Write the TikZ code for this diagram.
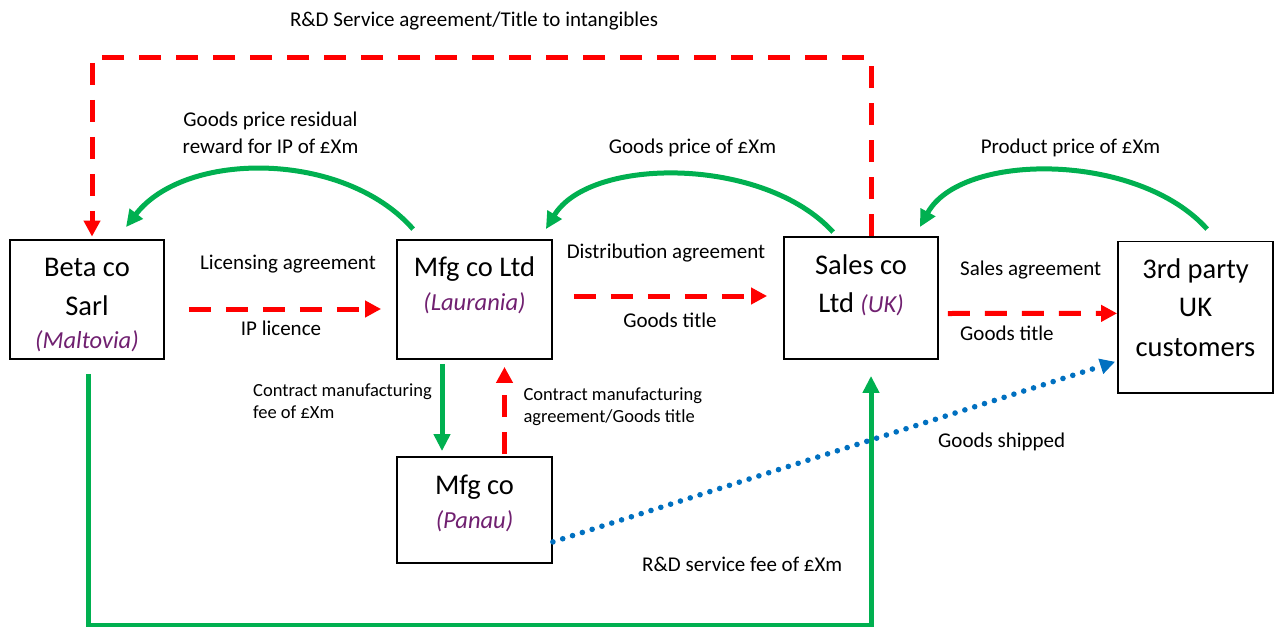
\documentclass[tikz,border=0pt]{standalone}
\usepackage{fontspec}
\setmainfont{Carlito}
\usetikzlibrary{arrows.meta,calc}
\definecolor{ggreen}{HTML}{00B050}
\definecolor{rred}{HTML}{FF0000}
\definecolor{bblue}{HTML}{0070C0}
\definecolor{ppurple}{HTML}{702070}
\begin{document}
\begin{tikzpicture}[x=1pt,y=-1pt,
  box/.style={draw=black, line width=1.8pt, inner sep=0pt},
  big/.style={font=\fontsize{28.5}{34}\selectfont, anchor=base, inner sep=0pt},
  ital/.style={font=\fontsize{24.5}{30}\selectfont\itshape, text=ppurple, anchor=base, inner sep=0pt},
  lab/.style={font=\fontsize{21}{27}\selectfont, anchor=base, inner sep=0pt},
  labw/.style={font=\fontsize{21}{27}\selectfont, anchor=base west, inner sep=0pt},
  small/.style={font=\fontsize{18.5}{22.5}\selectfont, anchor=base west, inner sep=0pt},
  reddash/.style={draw=rred, line width=5pt, dash pattern=on 22pt off 15pt, -{Triangle[length=16pt,width=16pt]}},
  greenarr/.style={draw=ggreen, line width=5pt, -{Triangle[length=17pt,width=16pt]}},
  bluedot/.style={draw=bblue, line width=5.6pt, line cap=round, dash pattern=on 0pt off 10.3pt, -{Triangle[length=15pt,width=15pt]}}
]
\useasboundingbox (0,0) rectangle (1276,626);

% boxes
\node[box, minimum width=154pt, minimum height=119pt] (beta) at (87,299.5) {};
\node[box, minimum width=155pt, minimum height=119pt] (mfg) at (474.5,299.5) {};
\node[box, minimum width=154pt, minimum height=122pt] (sales) at (861,298) {};
\node[box, minimum width=155pt, minimum height=151.5pt] (third) at (1195.5,317.25) {};
\node[box, minimum width=155pt, minimum height=106pt] (panau) at (474.5,510) {};

% box texts
\node[big] (beta1) at (87,276.7) {Beta co};
\node[big] (beta2) at (87,315) {Sarl};
\node[ital] (beta3) at (87,348.3) {(Maltovia)};
\node[big] (mfg1) at (474.5,276.7) {Mfg co Ltd};
\node[ital] (mfg2) at (474.5,310.7) {(Laurania)};
\node[big] (sales1) at (861,274.3) {Sales co};
\node[big] (sales2) at (861,312.7) {Ltd {\fontsize{24.5}{30}\selectfont\itshape\color{ppurple}(UK)}};
\node[big] (third1) at (1195.5,278.3) {3rd party};
\node[big] (third2) at (1195.5,316.7) {UK};
\node[big] (third3) at (1195.5,356) {customers};
\node[big] (panau1) at (474.5,494) {Mfg co};
\node[ital] (panau2) at (474.5,528.3) {(Panau)};

% labels
\node[lab] (ltop) at (474,27) {R\&D Service agreement/Title to intangibles};
\node[lab] (lgpr1) at (270.5,126) {Goods price residual};
\node[lab] (lgpr2) at (270.5,153.3) {reward for IP of £Xm};
\node[lab] (lgp) at (692.5,153.3) {Goods price of £Xm};
\node[lab] (lpp) at (1070.5,153.3) {Product price of £Xm};
\node[lab] (llic) at (288,269.3) {Licensing agreement};
\node[lab] (lip) at (281,335) {IP licence};
\node[lab] (ldist) at (666,258.3) {Distribution agreement};
\node[lab] (lgt1) at (670,327.7) {Goods title};
\node[labw] (lsa) at (960,275) {Sales agreement};
\node[labw] (lgt2) at (960,340) {Goods title};
\node[labw] (lship) at (938,447) {Goods shipped};
\node[labw] (lrd) at (642,571.7) {R\&D service fee of £Xm};
\node[small] (lcm1) at (253,396) {Contract manufacturing};
\node[small] (lcm2) at (253,418.3) {fee of £Xm};
\node[small] (lca1) at (523.3,400) {Contract manufacturing};
\node[small] (lca2) at (523.3,422.7) {agreement/Goods title};

% helper corner coordinates
\coordinate (topR) at (871,58);
\coordinate (topL) at (92,58);
\coordinate (botL) at (88,625);
\coordinate (botR) at (871,625);

% red dashed connectors
\draw[reddash] ($(sales.north)+(10,0)$) -- (topR) -- (topL) -- ($(beta.north)+(5,-2.5)$);
\draw[reddash] ($(beta.east)+(24,9.5)$) -- ($(mfg.west)+(-15,9.5)$);
\draw[reddash] ($(mfg.east)+(21,-3.5)$) -- ($(sales.west)+(-16,-2)$);
\draw[reddash] ($(sales.east)+(9,15.5)$) -- ($(third.west)+(0,-3.9)$);
\draw[reddash] ($(panau.north)+(30,-2)$) -- ($(mfg.south)+(30,7)$);

% green connectors
\draw[greenarr] ($(mfg.south)+(-32.5,4)$) -- ($(panau.north)+(-32.5,-5)$);
\draw[greenarr] ($(beta.south)+(1,14)$) -- (botL) -- (botR) -- ($(sales.south)+(10,16)$);
\draw[greenarr] ($(mfg.north west)+(17,-10)$) .. controls (344,150.3) and (185,150.3) .. ($(beta.north)+(39,-12)$);
\draw[greenarr] ($(sales.north west)+(50,-4)$) .. controls (764,156.2) and (590,156.2) .. ($(mfg.north east)+(-7,-10)$);
\draw[greenarr] ($(third.north west)+(90,-11.5)$) .. controls (1138,151.7) and (961,151.7) .. ($(sales.north east)+(-19,-9)$);

% blue dotted
\draw[bluedot] ($(panau.south east)+(0,-22)$) -- ($(third.west)+(-2,44.5)$);
\end{tikzpicture}
\end{document}
